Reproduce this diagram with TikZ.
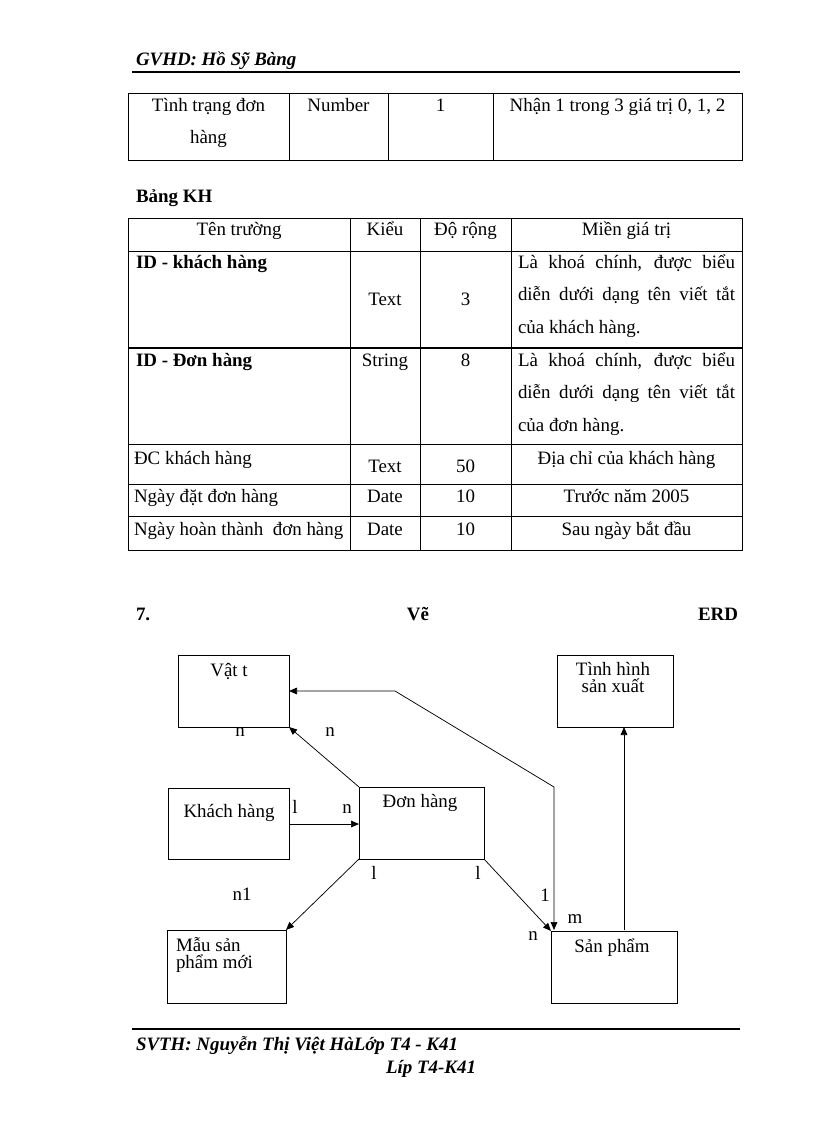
\documentclass[tikz,border=0pt]{standalone}
\usepackage{fontspec}
\setmainfont{Liberation Serif}
\usetikzlibrary{arrows.meta}
\newcommand{\fs}{\fontsize{14.2}{17}\selectfont}
\newcommand{\jline}[1]{\makebox[162.75pt][s]{#1}}
\begin{document}
\begin{tikzpicture}[x=0.75pt,y=-0.75pt,
  txt/.style={inner sep=0pt, outer sep=0pt, font=\fs},
  tb/.style={line width=0.65pt},
  rule/.style={line width=1.6pt},
  ebox/.style={draw, line width=0.65pt, inner sep=0pt, outer sep=0pt},
  arr/.style={line width=0.55pt, -{Triangle[length=6pt,width=5pt]}},
  arrb/.style={line width=0.55pt, {Triangle[length=6pt,width=5pt]}-{Triangle[length=6pt,width=5pt]}}]
\useasboundingbox[fill=white] (0,0) rectangle (816,1123);

% header
\node[txt, anchor=base west, font=\fs\bfseries\itshape] (hdr) at (136,66) {GVHD: Hồ Sỹ Bàng};
\draw[rule] (132,72) -- (740,72);

% table 1
\draw[tb] (128,93) rectangle (742,160);
\draw[tb] (289,93) -- (289,160) (388,93) -- (388,160) (493,93) -- (493,160);
\node[txt, anchor=base] (a1) at (208.5,112) {Tình trạng đơn};
\node[txt, anchor=base] (a2) at (208.5,144) {hàng};
\node[txt, anchor=base] (a3) at (338.5,112) {Number};
\node[txt, anchor=base] (a4) at (440.5,112) {1};
\node[txt, anchor=base] (a5) at (617.5,112) {Nhận 1 trong 3 giá trị 0, 1, 2};

% Bang KH
\node[txt, anchor=base west, font=\fs\bfseries] (bkh) at (136,203) {Bảng KH};

% table 2
\draw[tb] (128,218) rectangle (742,550);
\draw[tb] (350,218) -- (350,550) (420,218) -- (420,550) (511,218) -- (511,550);
\draw[tb] (128,251) -- (742,251);
\draw[line width=1.6pt] (128,348) -- (742,348);
\draw[tb] (128,444) -- (742,444) (128,484) -- (742,484) (128,516) -- (742,516);
% header row
\node[txt, anchor=base] (h1) at (239,236) {Tên trường};
\node[txt, anchor=base] (h2) at (385,236) {Kiểu};
\node[txt, anchor=base] (h3) at (465.5,236) {Độ rộng};
\node[txt, anchor=base] (h4) at (626.5,236) {Miền giá trị};
% row 1
\node[txt, anchor=base west, font=\fs\bfseries] (r1a) at (136,268) {ID - khách hàng};
\node[txt, anchor=base] (r1b) at (385,305) {Text};
\node[txt, anchor=base] (r1c) at (465.5,305) {3};
\node[txt, anchor=base west] (r1d1) at (518,268) {\jline{Là khoá chính, được biểu}};
\node[txt, anchor=base west] (r1d2) at (518,300) {\jline{diễn dưới dạng tên viết tắt}};
\node[txt, anchor=base west] (r1d3) at (518,333) {của khách hàng.};
% row 2
\node[txt, anchor=base west, font=\fs\bfseries] (r2a) at (136,366) {ID - Đơn hàng};
\node[txt, anchor=base] (r2b) at (385,366) {String};
\node[txt, anchor=base] (r2c) at (465.5,366) {8};
\node[txt, anchor=base west] (r2d1) at (518,366) {\jline{Là khoá chính, được biểu}};
\node[txt, anchor=base west] (r2d2) at (518,398) {\jline{diễn dưới dạng tên viết tắt}};
\node[txt, anchor=base west] (r2d3) at (518,431) {của đơn hàng.};
% row 3
\node[txt, anchor=base west] (r3a) at (134,464) {ĐC khách hàng};
\node[txt, anchor=base] (r3b) at (385,472) {Text};
\node[txt, anchor=base] (r3c) at (465.5,472) {50};
\node[txt, anchor=base] (r3d) at (626.5,464) {Địa chỉ của khách hàng};
% row 4
\node[txt, anchor=base west] (r4a) at (134,502) {Ngày đặt đơn hàng};
\node[txt, anchor=base] (r4b) at (385,502) {Date};
\node[txt, anchor=base] (r4c) at (465.5,502) {10};
\node[txt, anchor=base] (r4d) at (626.5,502) {Trước năm 2005};
% row 5
\node[txt, anchor=base west] (r5a) at (134,535) {Ngày hoàn thành\ \ đơn hàng};
\node[txt, anchor=base] (r5b) at (385,535) {Date};
\node[txt, anchor=base] (r5c) at (465.5,535) {10};
\node[txt, anchor=base] (r5d) at (626.5,535) {Sau ngày bắt đầu};

% section heading
\node[txt, anchor=base west, font=\fs\bfseries] (s1) at (136,620) {7.};
\node[txt, anchor=base, font=\fs\bfseries] (s2) at (418,620) {Vẽ};
\node[txt, anchor=base east, font=\fs\bfseries] (s3) at (738,620) {ERD};

% ERD boxes
\node[ebox, minimum width=83.25pt, minimum height=54pt] (vt) at (233.5,691) {};
\node[ebox, minimum width=87pt, minimum height=54pt] (th) at (615,691) {};
\node[ebox, minimum width=90.75pt, minimum height=53.25pt] (kh) at (228.5,824) {};
\node[ebox, minimum width=93.75pt, minimum height=54pt] (dh) at (421.5,823) {};
\node[ebox, minimum width=89.25pt, minimum height=54.75pt] (mau) at (226.5,966.5) {};
\node[ebox, minimum width=94.5pt, minimum height=54pt] (sp) at (614,967) {};

% box texts
\node[txt, anchor=base] (vtt) at (229,676) {Vật t};
\node[txt, anchor=base] (tht1) at (613,675) {Tình hình};
\node[txt, anchor=base] (tht2) at (613,692) {sản xuất};
\node[txt, anchor=base] (kht) at (229,817) {Khách hàng};
\node[txt, anchor=base] (dht) at (420,807) {Đơn hàng};
\node[txt, anchor=base west] (maut1) at (176,951) {Mẫu sản};
\node[txt, anchor=base west] (maut2) at (176,968) {phẩm mới};
\node[txt, anchor=base] (spt) at (612,952) {Sản phẩm};

% connectors
\coordinate (b1) at (395,691);
\coordinate (b2) at (554,787);
\coordinate (b3) at (554,930);
\coordinate (c1) at (624,930);
\draw[arr] (kh.east) -- (kh.east -| dh.west);
\draw[arr] (dh.north west) -- (vt.south east);
\draw[arrb] (vt.east) -- (b1) -- (b2) -- (b3);
\draw[arr] (dh.south east) -- (sp.north west);
\draw[arr] (dh.south west) -- (mau.north east);
\draw[arr] (c1) -- (c1 |- th.south);

% cardinality labels
\node[txt, anchor=base] (l1) at (295,813) {l};
\node[txt, anchor=base] (l2) at (347,813) {n};
\node[txt, anchor=base] (l3) at (240,736) {n};
\node[txt, anchor=base] (l4) at (330,736) {n};
\node[txt, anchor=base] (l5) at (374,879) {l};
\node[txt, anchor=base] (l6) at (478,879) {l};
\node[txt, anchor=base] (l7) at (242,900) {n1};
\node[txt, anchor=base] (l8) at (545,901) {1};
\node[txt, anchor=base] (l9) at (575,923) {m};
\node[txt, anchor=base] (l10) at (533,940) {n};

% footer
\draw[rule] (132,1029) -- (740,1029);
\node[txt, anchor=base west, font=\fs\bfseries\itshape] (f1) at (136,1050) {SVTH: Nguyễn Thị Việt HàLớp T4 - K41};
\node[txt, anchor=base, font=\fs\bfseries\itshape] (f2) at (431,1073) {Líp T4-K41};
\end{tikzpicture}
\end{document}
